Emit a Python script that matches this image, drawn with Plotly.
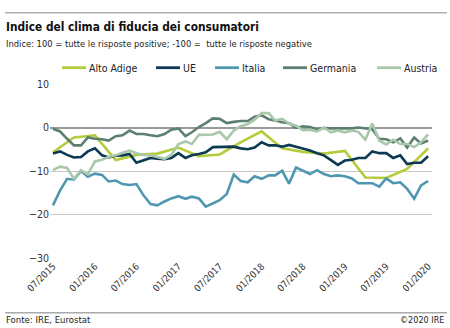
import plotly.graph_objects as go
import pandas as pd

# ---- data (monthly, 07/2015 .. 01/2020) ----
months = pd.date_range("2015-07-01", "2020-01-01", freq="MS")

ue = [-6.0, -5.5, -6.3, -6.9, -6.8, -5.5, -4.8, -6.4, -6.9, -6.5, -6.4, -6.1,
      -8.1, -7.6, -7.0, -7.2, -7.3, -7.0, -5.9, -7.0, -6.4, -6.1, -5.7, -4.5,
      -4.5, -4.5, -4.4, -4.8, -5.0, -4.6, -3.4, -4.1, -4.1, -4.4, -4.0, -4.4,
      -4.8, -5.3, -5.9, -6.4, -7.5, -8.6, -7.6, -7.4, -7.0, -7.0, -5.5, -5.9,
      -5.9, -7.0, -6.4, -8.4, -8.1, -8.1, -6.6]

italia = [-17.9, -14.5, -11.8, -12.0, -10.0, -11.3, -10.6, -10.9, -12.4, -12.2, -13.0, -13.2,
          -13.0, -15.6, -17.6, -17.9, -17.0, -16.3, -15.8, -16.4, -15.9, -16.3, -18.2, -17.4,
          -16.7, -15.3, -10.8, -12.3, -12.6, -11.2, -11.8, -11.0, -11.0, -9.9, -12.9, -9.2,
          -9.9, -10.7, -9.8, -10.7, -11.2, -11.0, -11.2, -11.7, -12.8, -12.8, -12.8, -13.6,
          -11.7, -12.8, -12.6, -14.1, -16.4, -13.3, -12.3]

germania = [-0.3, -0.9, -2.6, -4.1, -4.1, -2.3, -2.6, -2.7, -3.0, -2.0, -1.8, -0.7,
            -1.5, -1.5, -1.8, -2.0, -1.5, -0.5, -0.2, -2.0, -1.1, 0.1, 1.0, 2.1,
            2.0, 1.0, 1.3, 1.5, 1.5, 2.5, 2.8, 1.9, 1.6, 1.2, 1.0, -0.1,
            0.3, 0.1, -0.4, -0.1, -0.2, -0.2, -0.1, -0.2, 0.0, -0.2, -0.4, -2.6,
            -2.7, -3.4, -2.5, -4.6, -2.3, -3.7, -3.0]

austria = [-9.8, -9.0, -9.3, -11.8, -9.8, -10.8, -7.8, -7.4, -6.8, -6.4, -5.8, -5.3,
           -5.9, -6.3, -6.4, -6.8, -7.2, -6.3, -3.8, -3.2, -3.8, -1.7, -1.6, -1.6,
           -1.0, -2.7, -0.7, 0.3, 0.8, 1.8, 3.3, 3.3, 1.6, 2.0, 0.9, 0.4,
           -0.6, -0.5, -0.9, 0.0, -1.1, -0.7, -1.1, -0.7, -1.0, -2.8, 0.9, -3.0,
           -3.9, -2.8, -3.8, -3.8, -4.5, -3.4, -1.6]

# Alto Adige: quarterly survey
quarters = pd.date_range("2015-07-01", "2020-01-01", freq="3MS")
alto_adige = [-5.7, -2.3, -1.8, -7.5, -6.3, -6.0, -4.6, -6.6, -6.2, -3.4,
              -0.9, -4.8, -5.6, -6.0, -5.4, -11.5, -11.6, -9.5, -4.8]

series_names = ["Alto Adige", "UE", "Italia", "Germania", "Austria"]
colors = ["#b4cc3a", "#0c3a52", "#4f97b1", "#5d7f72", "#a9c7aa"]

FONT = "DejaVu Sans Condensed, Liberation Sans Narrow, sans-serif"

W, H = 450, 328
L, R, T, B = 50, 432, 84.3, 258.3
LEGEND_X = [62, 156, 215, 283, 377]   # pixel start of each legend key
LEGEND_Y = 68


def px(x):
    return (x - L) / (R - L)


def py(y):
    return (B - y) / (B - T)


fig = go.Figure()
xs = [quarters, months, months, months, months]
ys = [alto_adige, ue, italia, germania, austria]
for name, c, x, y in zip(series_names, colors, xs, ys):
    fig.add_trace(go.Scatter(x=x, y=y, mode="lines", name=name, showlegend=False,
                             line=dict(color=c, width=2.6)))

fig.update_layout(
    width=W, height=H,
    margin=dict(l=L, r=W - R, t=T, b=H - B, autoexpand=False),
    paper_bgcolor="white", plot_bgcolor="white",
    font=dict(family=FONT, size=10, color="#333333"),
    showlegend=False,
    xaxis=dict(type="date", range=["2015-06-18", "2020-01-18"],
               tick0="2015-07-01", dtick="M6", tickformat="%m/%Y",
               tickangle=-45, showgrid=False, zeroline=False, showline=False,
               ticks="", tickfont=dict(size=9.5, color="#333333")),
    yaxis=dict(range=[-30, 10], dtick=10, showgrid=True, gridcolor="#c8c8c8",
               gridwidth=1, zeroline=True, zerolinecolor="#9a9a9a", zerolinewidth=2,
               showline=False, ticks="", ticklen=0, ticklabelstandoff=0,
               tickfont=dict(size=10.5, color="#333333")),
)

shapes = [
    dict(type="rect", xref="paper", yref="paper", x0=px(5), x1=px(447),
         y0=py(13.8), y1=py(12.4), fillcolor="#b0b0b0", line=dict(width=0), layer="above"),
    dict(type="line", xref="paper", yref="paper", x0=px(5), x1=px(447), y0=py(313), y1=py(313),
         line=dict(color="#aaaaaa", width=1.5), layer="above"),
]
annotations = [
    dict(text="<b>Indice del clima di fiducia dei consumatori</b>", x=px(4), y=py(27.5),
         xanchor="left", yanchor="middle", font=dict(size=11.8, color="#111111")),
    dict(text="Indice: 100 = tutte le risposte positive; -100 =  tutte le risposte negative",
         x=px(4), y=py(43.5), xanchor="left", yanchor="middle", font=dict(size=9.3, color="#222222")),
    dict(text="Fonte: IRE, Eurostat", x=px(4), y=py(320), xanchor="left", yanchor="middle",
         font=dict(size=9.5, color="#222222")),
    dict(text="©2020 IRE", x=px(446), y=py(320), xanchor="right", yanchor="middle",
         font=dict(size=9, color="#222222")),
]

# legend keys
for name, c, lx in zip(series_names, colors, LEGEND_X):
    shapes.append(dict(type="line", xref="paper", yref="paper",
                       x0=px(lx), x1=px(lx + 24), y0=py(LEGEND_Y), y1=py(LEGEND_Y),
                       line=dict(color=c, width=2.8)))
    annotations.append(dict(text=name, x=px(lx + 25), y=py(LEGEND_Y), xanchor="left",
                            yanchor="middle", font=dict(size=10.5, color="#222222")))

for a in annotations:
    a.update(xref="paper", yref="paper", showarrow=False)
fig.update_layout(shapes=shapes, annotations=annotations)

fig.write_html("out.html")
